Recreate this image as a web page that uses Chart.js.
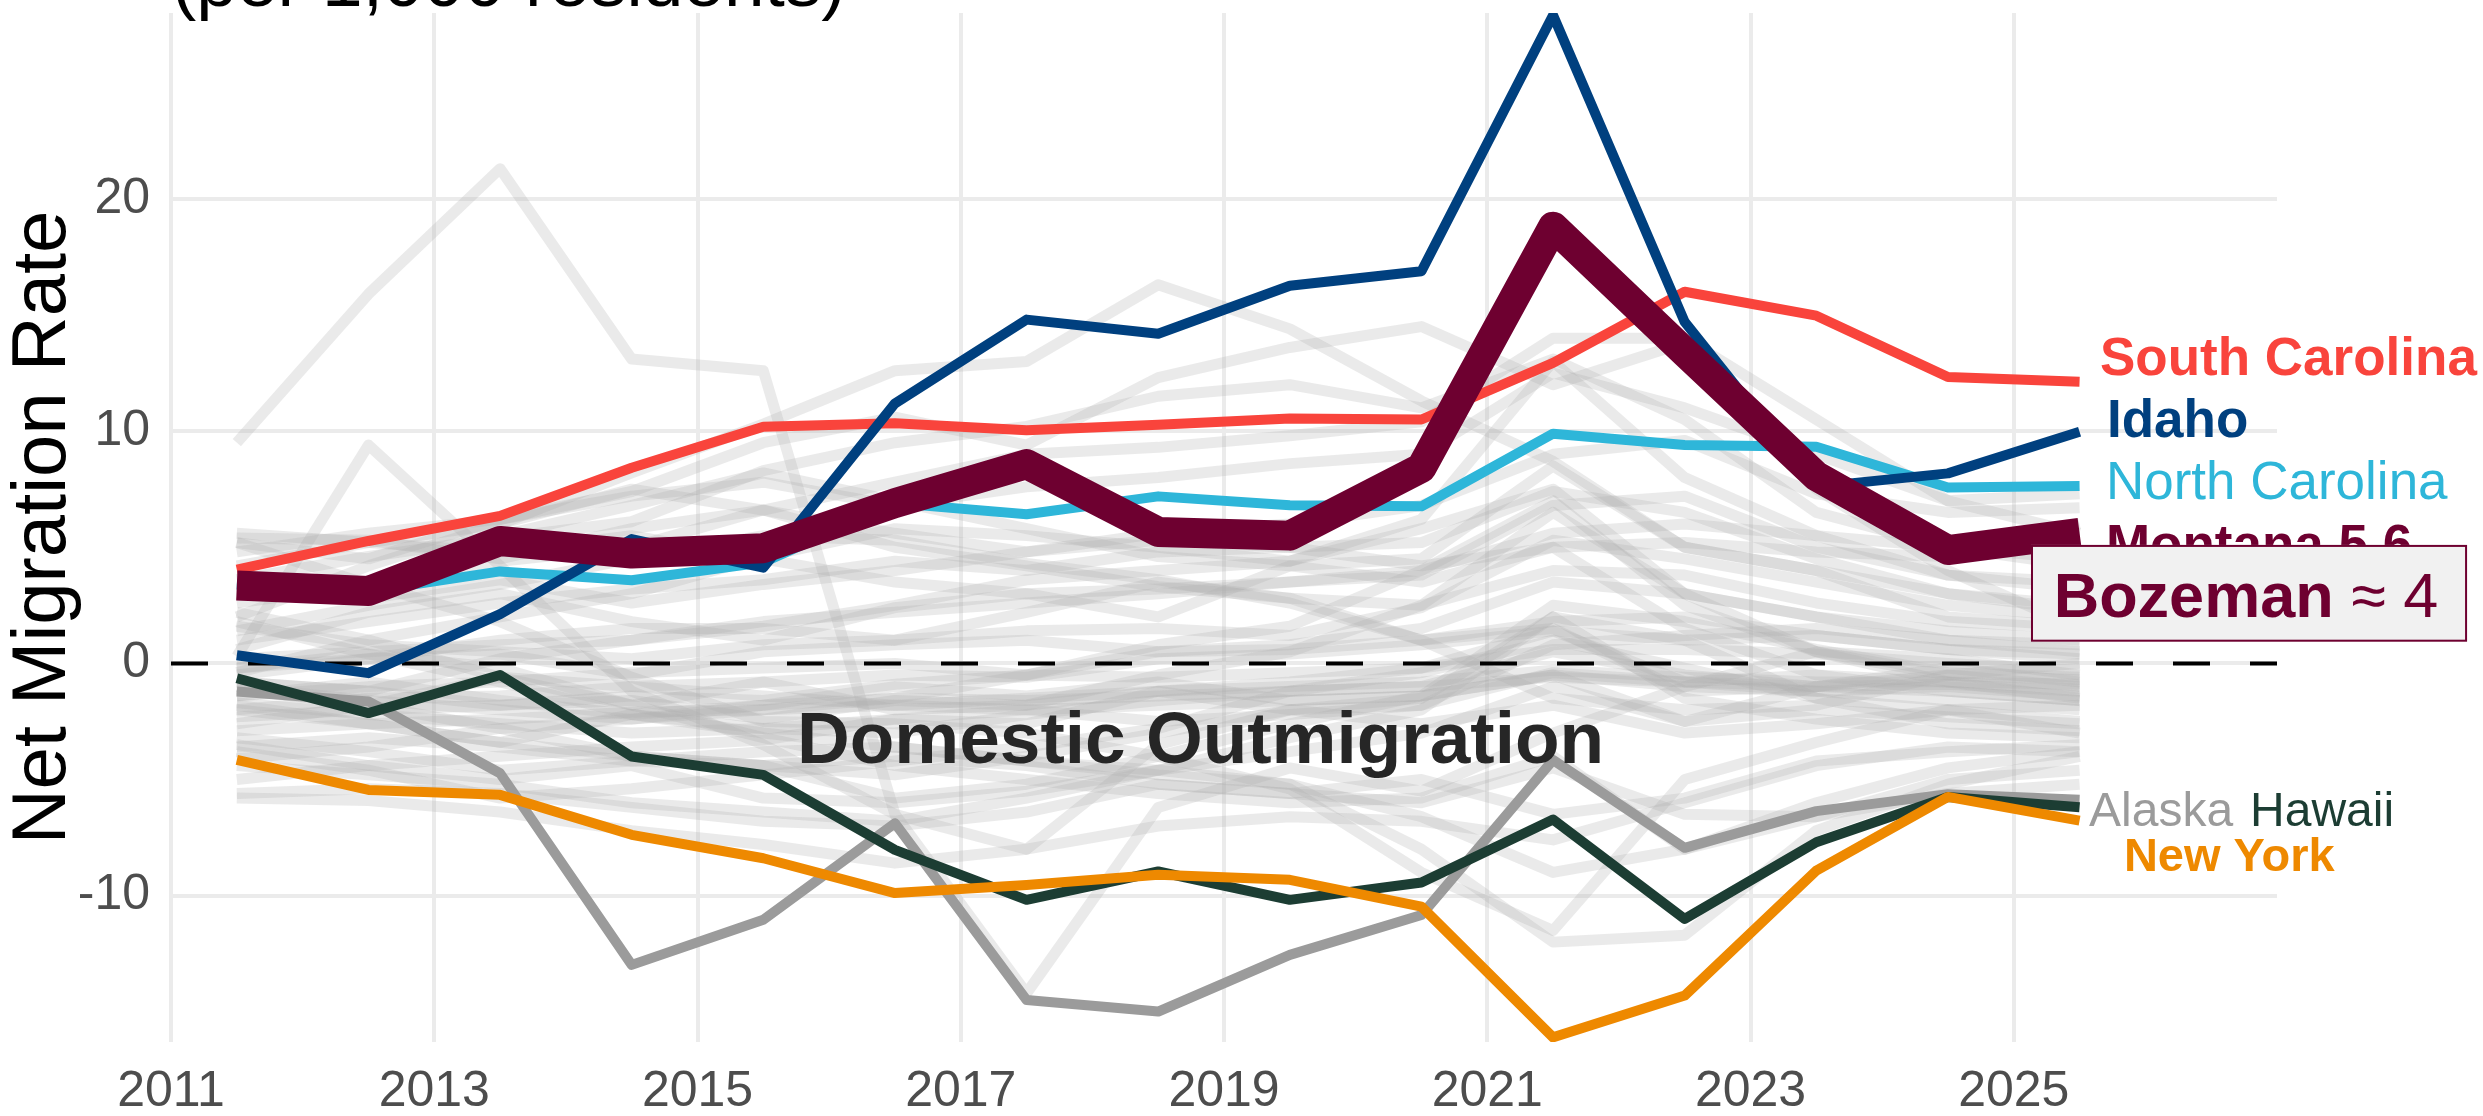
<!DOCTYPE html>
<html>
<head>
<meta charset="utf-8">
<style>
html,body{margin:0;padding:0;background:#ffffff;}
#wrap{width:2483px;height:1116px;position:relative;overflow:hidden;}
canvas{display:block;}
</style>
<script src="https://cdn.jsdelivr.net/npm/chart.js@4.4.1/dist/chart.umd.min.js"></script>
</head>
<body>
<div id="wrap"><canvas id="c" width="2483" height="1116"></canvas></div>
<script>
// ---------------- DATA ----------------
const years = [2011.5, 2012.5, 2013.5, 2014.5, 2015.5, 2016.5, 2017.5, 2018.5, 2019.5, 2020.5, 2021.5, 2022.5, 2023.5, 2024.5, 2025.5];
const xTickLabels = [2011, 2013, 2015, 2017, 2019, 2021, 2023, 2025];
const yTickLabels = [-10, 0, 10, 20];
const zeroLineX = [2011, 2027];
const zeroLineY = [0, 0];

// highlighted states
const montana       = [3.35, 3.12, 5.27, 4.73, 4.96, 6.9, 8.58, 5.66, 5.50, 8.42, 18.8, 13.4, 8.06, 4.88, 5.62];
const idaho         = [0.35, -0.42, 2.12, 5.35, 4.12, 11.19, 14.80, 14.19, 16.26, 16.88, 27.9, 14.7, 7.6, 8.18, 9.97];
const southCarolina = [4.04, 5.27, 6.35, 8.42, 10.19, 10.34, 10.04, 10.27, 10.54, 10.50, 12.94, 16.0, 14.97, 12.33, 12.13];
const northCarolina = [3.4, 3.1, 3.96, 3.58, 4.35, 6.9, 6.42, 7.19, 6.81, 6.76, 9.89, 9.40, 9.33, 7.57, 7.64];
const alaska        = [-1.21, -1.64, -4.73, -12.98, -11.04, -6.88, -14.49, -14.99, -12.55, -10.83, -4.16, -7.94, -6.36, -5.63, -5.87];
const hawaii        = [-0.64, -2.14, -0.50, -4.01, -4.80, -8.03, -10.18, -8.96, -10.18, -9.43, -6.72, -11.0, -7.70, -5.75, -6.19];
const newYork       = [-4.15, -5.45, -5.66, -7.38, -8.39, -9.89, -9.54, -9.10, -9.32, -10.47, -16.1, -14.3, -8.92, -5.75, -6.77];

// other states (grey background lines)
const northDakota   = [9.5, 15.9, 21.3, 13.1, 12.6, -6.5, -14.2, -6.2, -4.5, -5.5, -3.0, -1.0, 0.5, -0.5, -1.0];
const wyoming       = [0.3, 9.4, 4.2, -1.2, -3.5, -6.5, -8.0, -3.5, -2.0, -1.5, 2.0, 1.0, -1.5, -2.0, -2.5];
const nevada        = [2.0, 4.2, 6.0, 8.2, 10.3, 12.6, 13.0, 16.3, 14.4, 11.3, 8.7, 5.0, 4.0, 3.0, 2.5];
const florida       = [4.8, 5.6, 6.2, 7.4, 9.5, 10.6, 9.4, 12.3, 13.6, 14.5, 12.0, 13.8, 7.5, 4.0, 1.5];
const arizona       = [3.6, 4.6, 5.4, 6.1, 8.3, 9.5, 10.2, 11.5, 12.0, 11.0, 13.1, 10.5, 6.5, 5.0, 4.2];
const tennessee     = [3.2, 3.5, 4.4, 5.0, 6.6, 7.8, 9.0, 9.3, 9.8, 10.4, 14.0, 14.0, 10.5, 7.0, 5.6];
const maine         = [-0.8, -1.2, 0.2, 1.0, 1.6, 2.5, 3.6, 4.0, 4.4, 6.2, 13.0, 8.0, 5.5, 3.8, 3.2];
const oregon        = [2.6, 3.4, 5.5, 6.8, 8.2, 7.0, 5.8, 4.6, 4.2, 3.5, 5.0, 1.5, -0.5, -1.2, -1.6];
const washington    = [1.4, 2.5, 3.4, 4.5, 5.5, 5.3, 4.3, 3.6, 2.6, 1.0, -1.5, -2.0, -1.8, -0.5, 0.0];
const colorado      = [4.2, 5.2, 6.0, 7.5, 6.6, 5.0, 4.2, 3.3, 2.8, 1.0, 1.5, -1.2, -1.0, -0.5, -0.7];
const texas         = [5.6, 5.2, 4.8, 5.5, 4.5, 3.5, 3.0, 3.2, 3.5, 3.8, 6.8, 7.2, 5.0, 3.8, 3.5];
const georgia       = [1.0, 1.8, 2.6, 3.2, 3.6, 4.4, 4.0, 4.8, 5.0, 5.2, 7.4, 6.5, 4.5, 3.0, 2.3];
const utah          = [-0.4, 1.0, 2.0, 3.0, 4.6, 5.8, 5.5, 5.0, 4.4, 5.8, 7.5, 3.0, 0.5, 0.2, -0.5];
const delaware      = [5.2, 4.5, 6.2, 7.2, 7.8, 6.8, 7.6, 8.0, 8.6, 9.0, 12.5, 11.0, 9.0, 7.0, 7.3];
const newHampshire  = [-0.5, 0.2, 1.0, 1.5, 1.5, 1.0, 2.2, 3.5, 2.8, 2.5, 6.5, 3.0, 2.0, 1.0, 0.8];
const vermont       = [-1.0, -1.6, -2.0, -2.4, -2.0, -1.5, -0.5, 0.8, 1.6, 4.0, 7.0, 2.5, 0.5, -0.8, -1.5];
const alabama       = [0.2, 0.5, 0.8, 1.0, 1.8, 2.2, 2.6, 3.0, 3.5, 4.0, 5.6, 6.0, 5.5, 5.0, 4.5];
const arkansas      = [1.6, 0.8, 0.5, 0.2, 0.8, 1.0, 1.4, 1.5, 1.2, 2.4, 5.3, 4.5, 3.5, 2.5, 2.0];
const oklahoma      = [2.2, 1.0, -0.6, -1.8, -0.8, -2.0, -1.8, -0.5, 0.5, 2.5, 4.0, 3.8, 2.6, 1.8, 1.5];
const southDakota   = [0.6, 2.2, 3.0, 1.8, 1.0, 2.4, 3.0, 2.0, 4.2, 4.5, 8.5, 5.0, 4.0, 2.0, 1.6];
const kentucky      = [-0.2, 0.2, 0.4, -0.5, 0.5, 0.8, 1.0, 0.5, 0.8, 1.5, 3.5, 3.0, 2.0, 1.4, 1.0];
const missouri      = [-1.4, -1.0, -0.8, -0.4, -0.2, 0.0, -0.5, 0.5, 0.6, 1.0, 1.8, 2.0, 1.2, 0.6, 0.4];
const virginia      = [1.8, 0.4, -0.8, -2.2, -1.8, -1.0, -1.4, -0.8, -1.6, -1.4, -0.5, -2.5, -1.0, -0.2, -0.8];
const maryland      = [-1.1, -1.8, -2.8, -4.0, -4.4, -4.0, -4.4, -5.2, -5.6, -5.0, -6.5, -5.8, -4.2, -3.8, -3.5];
const indiana       = [-2.0, -1.5, -1.4, -1.0, -0.8, -0.5, -0.6, 0.2, 0.4, 0.8, 1.4, 1.0, 1.2, 0.6, 0.2];
const wisconsin     = [-2.3, -2.0, -1.8, -1.4, -1.6, -0.9, -0.5, -0.6, -0.4, -0.2, 0.6, 0.6, 0.4, 0.0, -0.3];
const minnesota     = [-0.8, -1.2, -1.8, -1.6, -2.4, -1.6, -1.8, -1.2, -2.0, -2.6, -1.8, -3.0, -2.6, -2.0, -1.8];
const michigan      = [-4.1, -3.6, -2.8, -2.4, -1.8, -1.5, -1.6, -1.4, -1.2, -1.0, -0.6, -0.8, -1.0, -0.9, -1.2];
const ohio          = [-2.9, -2.6, -2.4, -2.1, -2.0, -1.8, -1.5, -1.2, -1.0, -0.8, -0.3, -0.6, -0.8, -0.8, -0.9];
const pennsylvania  = [-1.7, -2.2, -2.6, -3.0, -2.8, -2.4, -2.0, -1.8, -1.6, -1.4, -0.5, -1.0, -1.2, -1.0, -1.4];
const iowa          = [-2.6, -1.8, -0.6, -1.0, -1.4, -1.8, -2.0, -2.5, -2.2, -1.8, -0.4, -0.8, -0.5, -0.8, -1.1];
const kansas        = [-3.5, -4.4, -5.0, -4.4, -5.8, -6.0, -5.5, -4.6, -3.8, -3.0, -1.0, -2.5, -2.0, -2.3, -2.6];
const nebraska      = [-1.4, -0.8, -1.6, -2.2, -2.8, -3.0, -2.2, -1.6, -1.2, -1.0, 0.5, -0.5, -1.0, -1.2, -1.6];
const mississippi   = [-3.2, -3.8, -4.6, -4.2, -4.4, -4.8, -4.0, -3.0, -2.0, -1.8, 0.8, 1.2, 1.5, 1.0, 0.5];
const louisiana     = [-0.2, 0.4, -0.2, -1.8, -3.2, -4.4, -5.0, -5.6, -6.0, -5.8, -4.0, -8.0, -6.0, -4.5, -3.8];
const newMexico     = [-3.8, -4.6, -5.8, -5.4, -4.8, -4.2, -3.6, -2.8, -1.2, -0.4, 1.0, -0.2, -1.5, -2.6, -2.9];
const westVirginia  = [-1.8, -2.6, -3.4, -4.0, -4.4, -5.8, -5.2, -4.0, -2.6, -1.4, 2.5, 1.8, 0.6, -0.4, -0.6];
const connecticut   = [-4.4, -4.8, -5.2, -6.0, -6.4, -6.8, -5.8, -4.6, -3.2, -2.0, 2.0, -1.5, -2.4, -3.0, -3.2];
const newJersey     = [-5.6, -5.4, -5.6, -6.2, -6.8, -7.0, -6.4, -5.2, -5.6, -6.0, -4.5, -6.5, -6.6, -5.6, -5.2];
const massachusetts = [-3.6, -3.2, -3.6, -4.2, -3.8, -3.6, -4.2, -4.8, -5.2, -6.6, -9.0, -8.0, -6.6, -5.0, -4.6];
const illinois      = [-5.8, -5.9, -6.4, -7.2, -7.8, -8.6, -8.0, -7.0, -6.6, -6.8, -7.6, -6.0, -4.4, -3.6, -3.8];
const california    = [-2.0, -2.6, -3.4, -2.2, -3.0, -3.6, -4.2, -4.6, -5.2, -8.0, -12.0, -11.7, -7.2, -5.2, -4.0];
const districtOfCol = [5.2, 3.4, 1.8, -0.6, -2.5, -2.6, -3.0, -4.0, -5.4, -9.0, -11.5, -5.0, -3.4, -2.0, -3.0];
const rhodeIsland   = [-5.0, -4.4, -4.0, -3.6, -3.3, -2.4, -2.6, -1.2, -0.8, -0.2, 1.4, -0.8, -1.2, -1.6, -2.0];
const southCarolinaNeighbor = [5.4, 5.3, 4.5, 5.8, 6.6, 5.6, 4.8, 5.3, 5.0, 4.2, 5.0, 5.2, 4.8, 4.6, 6.0];
const newHampshire2 = [3.0, 2.8, 3.6, 2.6, 3.4, 4.0, 4.8, 5.6, 6.0, 6.8, 9.0, 9.6, 7.3, 6.5, 6.7];

const otherStates = [northDakota, wyoming, nevada, florida, arizona, tennessee, maine, oregon, washington,
  colorado, texas, georgia, utah, delaware, newHampshire, vermont, alabama, arkansas, oklahoma, southDakota,
  kentucky, missouri, virginia, maryland, indiana, wisconsin, minnesota, michigan, ohio, pennsylvania, iowa,
  kansas, nebraska, mississippi, louisiana, newMexico, westVirginia, connecticut, newJersey, massachusetts,
  illinois, california, districtOfCol, rhodeIsland, southCarolinaNeighbor, newHampshire2];

// ---------------- STYLE ----------------
const FONT = '"Liberation Sans", Arial, Helvetica, sans-serif';
const C = {
  montana: '#6E0030', idaho: '#00407F', sc: '#F9443C', nc: '#2EB6D9',
  alaska: '#9B9B9B', hawaii: '#1C3D33', ny: '#EE8900', grey: 'rgba(175,175,175,0.26)'
};

const toPts = arr => years.map((x, i) => ({x: x, y: arr[i]}));

const datasets = [];
const hl = [
  {label: 'Montana', data: montana, color: C.montana, w: 30, order: 1},
  {label: 'Idaho', data: idaho, color: C.idaho, w: 10, order: 2},
  {label: 'South Carolina', data: southCarolina, color: C.sc, w: 10, order: 3},
  {label: 'North Carolina', data: northCarolina, color: C.nc, w: 10, order: 4},
  {label: 'New York', data: newYork, color: C.ny, w: 10, order: 5},
  {label: 'Hawaii', data: hawaii, color: C.hawaii, w: 10, order: 6},
  {label: 'Alaska', data: alaska, color: C.alaska, w: 10, order: 7}
];
hl.forEach(s => datasets.push({
  label: s.label, data: toPts(s.data), borderColor: s.color, borderWidth: s.w,
  order: s.order, pointRadius: 0, tension: 0, borderJoinStyle: 'round', borderCapStyle: 'butt', fill: false
}));
datasets.push({
  label: 'zero', data: zeroLineX.map((x, i) => ({x: x, y: zeroLineY[i]})), borderColor: '#000000',
  borderWidth: 4, borderDash: [37, 40], order: 50, pointRadius: 0, fill: false
});
otherStates.forEach((arr, k) => datasets.push({
  label: 'other' + k, data: toPts(arr), borderColor: C.grey, borderWidth: 11,
  order: 100 + k, pointRadius: 0, tension: 0, borderJoinStyle: 'round', borderCapStyle: 'butt', fill: false
}));

// annotation texts (positions in data units)
const labels = [
  {text: 'South Carolina', x: 2025.655, y: 12.415, font: 'bold 53px ' + FONT, color: C.sc},
  {text: 'Idaho', x: 2025.708, y: 9.76, font: 'bold 53px ' + FONT, color: C.idaho},
  {text: 'North Carolina', x: 2025.70, y: 7.08, font: '53px ' + FONT, color: C.nc},
  {text: 'Montana 5.6', x: 2025.70, y: 4.365, font: 'bold 53px ' + FONT, color: C.montana},
  {text: 'Alaska', x: 2025.572, y: -7.0, font: '48px ' + FONT, color: C.alaska},
  {text: 'Hawaii', x: 2026.795, y: -7.0, font: '48px ' + FONT, color: C.hawaii},
  {text: 'New York', x: 2025.837, y: -8.925, font: 'bold 47px ' + FONT, color: C.ny}
];

const annot = {
  id: 'annot',
  afterDatasetsDraw(chart) {
    const {ctx, scales: {x, y}, chartArea} = chart;
    ctx.save();
    ctx.textBaseline = 'alphabetic';
    // subtitle cut at top
    ctx.fillStyle = '#000000';
    ctx.font = '73px ' + FONT;
    ctx.textAlign = 'left';
    ctx.fillText('(per 1,000 residents)', chartArea.left + 1, chartArea.top - 7);
    // Domestic Outmigration
    ctx.fillStyle = '#262626';
    ctx.font = 'bold 73px ' + FONT;
    ctx.textAlign = 'center';
    ctx.fillText('Domestic Outmigration', x.getPixelForValue(2018.822), y.getPixelForValue(-4.30));
    // state labels
    ctx.textAlign = 'left';
    labels.forEach(l => {
      ctx.font = l.font; ctx.fillStyle = l.color;
      ctx.fillText(l.text, x.getPixelForValue(l.x), y.getPixelForValue(l.y));
    });
    // Bozeman box
    const bx0 = x.getPixelForValue(2025.131), bx1 = x.getPixelForValue(2028.444);
    const by0 = y.getPixelForValue(5.10), by1 = y.getPixelForValue(0.934);
    ctx.fillStyle = '#F1F1F1';
    ctx.fillRect(bx0, by0, bx1 - bx0, by1 - by0);
    ctx.strokeStyle = C.montana; ctx.lineWidth = 2;
    ctx.strokeRect(bx0 + 1, by0 + 1, bx1 - bx0 - 2, by1 - by0 - 2);
    ctx.fillStyle = C.montana;
    const tx = x.getPixelForValue(2025.303), ty = y.getPixelForValue(2.01);
    ctx.font = 'bold 63px ' + FONT;
    ctx.fillText('Bozeman', tx, ty);
    const w = ctx.measureText('Bozeman').width;
    ctx.font = '63px ' + FONT;
    ctx.fillText(' \u2248 4', tx + w, ty);
    ctx.restore();
  }
};

Chart.defaults.font.family = FONT;

new Chart(document.getElementById('c'), {
  type: 'line',
  data: {datasets: datasets},
  options: {
    responsive: false,
    devicePixelRatio: 1,
    animation: false,
    layout: {padding: {left: 0, right: 206, top: 13, bottom: 0}},
    plugins: {legend: {display: false}, tooltip: {enabled: false}},
    elements: {line: {borderJoinStyle: 'round'}},
    scales: {
      x: {
        type: 'linear', min: 2011, max: 2027,
        afterBuildTicks: s => { s.ticks = xTickLabels.map(v => ({value: v})); },
        afterFit: s => { s.height = 74; s.paddingLeft = 0; s.paddingRight = 0; s.paddingTop = 0; s.paddingBottom = 0; },
        ticks: {callback: v => String(v), color: '#4D4D4D', font: {size: 50}, padding: 20, maxRotation: 0, autoSkip: false},
        grid: {color: '#EBEBEB', lineWidth: 4, drawTicks: false},
        border: {display: false}
      },
      y: {
        type: 'linear', min: -16.3, max: 28.0,
        afterBuildTicks: s => { s.ticks = yTickLabels.map(v => ({value: v})); },
        afterFit: s => { s.width = 171; s.paddingTop = 0; s.paddingBottom = 0; s.paddingLeft = 0; s.paddingRight = 0; },
        ticks: {callback: v => String(v), color: '#4D4D4D', font: {size: 50}, padding: 21},
        grid: {color: '#EBEBEB', lineWidth: 4, drawTicks: false},
        border: {display: false},
        title: {display: true, text: 'Net Migration Rate', color: '#000000', font: {size: 76, lineHeight: 1.17}, padding: {top: 0, bottom: 0}}
      }
    }
  },
  plugins: [annot]
});
</script>
</body>
</html>
